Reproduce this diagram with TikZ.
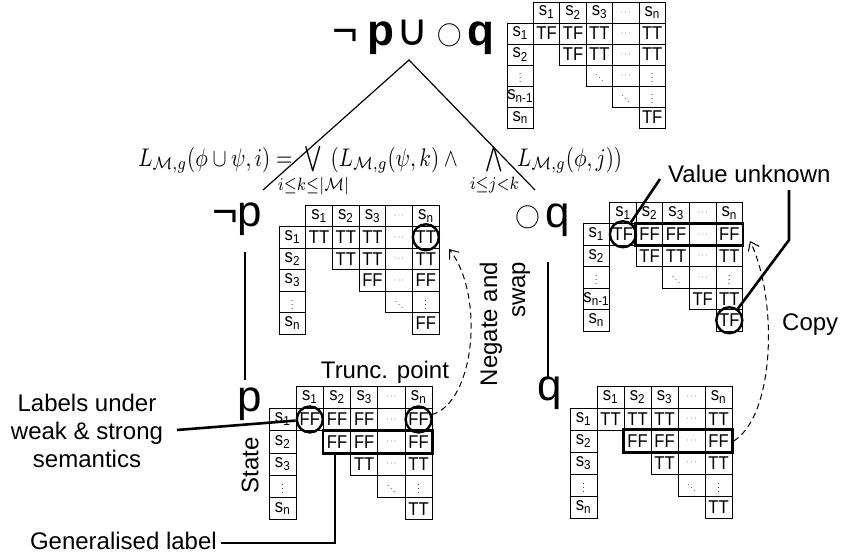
\documentclass[tikz,border=0pt]{standalone}
\usepackage{fontspec}
\setmainfont{Liberation Sans}
\newfontfamily\dejavu{DejaVu Sans}
\newfontfamily\cellfont[FakeStretch=0.9]{Liberation Sans}
\usetikzlibrary{arrows.meta,fit}
\newcommand\Sx[1]{s\textsubscript{#1}}
\newcommand\mycd{{\fontsize{8}{8}\selectfont$\cdots$}}
\newcommand\myvd{{\fontsize{9}{9}\selectfont$\vdots$}}
\newcommand\mydd{{\fontsize{8}{8}\selectfont$\ddots$}}
\newcommand\myclap[1]{\makebox[0pt]{$\scriptstyle #1$}}
\newcommand\ring{\raisebox{4pt}{\fontsize{24.88}{26}\selectfont$\bigcirc$}}
\newcommand\tabsetup[5]{\def\tN{#1}\def\tX{#2}\def\tY{#3}\def\tW{#4}\def\tH{#5}}
\newcommand\tc[3]{\node[cellbox, minimum width=\tW*1pt, minimum height=\tH*1pt] (\tN-#1-#2) at ({\tX+(#2+0.5)*\tW},{\tY+(#1+0.5)*\tH}) {#3};}
\newcommand\stdhead{\foreach \ci/\tx in {1/\Sx1,2/\Sx2,3/\Sx3,4/\mycd,5/\Sx n}{\tc{0}{\ci}{\tx}}}
\tikzset{
 cellbox/.style={draw, line width=0.8pt, inner sep=0pt, font=\cellfont\fontsize{18.5}{18.5}\selectfont},
 markcirc/.style={draw, circle, line width=2.4pt, minimum size=26pt, inner sep=0pt},
 thickbox/.style={draw, line width=2.8pt, inner sep=0pt},
 annot/.style={line width=2.6pt},
 treeline/.style={line width=1.2pt},
 dasharrow/.style={line width=1pt, dash pattern=on 6pt off 4pt, -{Straight Barb[length=8pt,width=12pt]}},
 note/.style={font=\fontsize{24}{28}\selectfont, inner sep=0pt},
 big/.style={font=\fontsize{44}{44}\selectfont, inner sep=0pt},
}
\begin{document}
\begin{tikzpicture}[x=1pt,y=-1pt]
\fill[white] (0,0) rectangle (843,557);
\useasboundingbox (0,0) rectangle (843,557);

% ---------- top table
\tabsetup{T}{507}{2}{26.4}{21}
\stdhead
\foreach \ri/\ci/\tx in {1/0/\Sx1,2/0/\Sx2,3/0/\myvd,4/0/\Sx{n-1},5/0/\Sx n,
 1/1/TF,1/2/TF,1/3/TT,1/4/\mycd,1/5/TT,
 2/2/TF,2/3/TT,2/4/\mycd,2/5/TT,
 3/3/\mydd,3/4/\mycd,3/5/\myvd,
 4/4/\mydd,4/5/\myvd,
 5/5/TF}{\tc{\ri}{\ci}{\tx}}

% ---------- not p table
\tabsetup{NP}{279}{205}{26.7}{21.5}
\stdhead
\foreach \ri/\ci/\tx in {1/0/\Sx1,2/0/\Sx2,3/0/\Sx3,4/0/\myvd,5/0/\Sx n,
 1/1/TT,1/2/TT,1/3/TT,1/4/\mycd,1/5/TT,
 2/2/TT,2/3/TT,2/4/\mycd,2/5/TT,
 3/3/FF,3/4/\mycd,3/5/FF,
 4/4/\mydd,4/5/\myvd,
 5/5/FF}{\tc{\ri}{\ci}{\tx}}

% ---------- next q table
\tabsetup{OQ}{583}{202}{26.6}{21.5}
\stdhead
\foreach \ri/\ci/\tx in {1/0/\Sx1,2/0/\Sx2,3/0/\myvd,4/0/\Sx{n-1},5/0/\Sx n,
 1/1/TF,1/2/FF,1/3/FF,1/4/\mycd,1/5/FF,
 2/2/TF,2/3/TT,2/4/\mycd,2/5/TT,
 3/3/\mydd,3/4/\mycd,3/5/\myvd,
 4/4/TF,4/5/TT,
 5/5/TF}{\tc{\ri}{\ci}{\tx}}

% ---------- p table
\tabsetup{P}{269}{386}{27.2}{22.3}
\stdhead
\foreach \ri/\ci/\tx in {1/0/\Sx1,2/0/\Sx2,3/0/\Sx3,4/0/\myvd,5/0/\Sx n,
 1/1/FF,1/2/FF,1/3/FF,1/4/\mycd,1/5/FF,
 2/2/FF,2/3/FF,2/4/\mycd,2/5/FF,
 3/3/TT,3/4/\mycd,3/5/TT,
 4/4/\mydd,4/5/\myvd,
 5/5/TT}{\tc{\ri}{\ci}{\tx}}

% ---------- q table
\tabsetup{Q}{570}{386}{27}{22}
\stdhead
\foreach \ri/\ci/\tx in {1/0/\Sx1,2/0/\Sx2,3/0/\Sx3,4/0/\myvd,5/0/\Sx n,
 1/1/TT,1/2/TT,1/3/TT,1/4/\mycd,1/5/TT,
 2/2/FF,2/3/FF,2/4/\mycd,2/5/FF,
 3/3/TT,3/4/\mycd,3/5/TT,
 4/4/\mydd,4/5/\myvd,
 5/5/TT}{\tc{\ri}{\ci}{\tx}}

% ---------- marks
\node[markcirc] (cNP15) at (NP-1-5) {};
\node[markcirc] (cOQ11) at (OQ-1-1) {};
\node[markcirc] (cOQ55) at (OQ-5-5) {};
\node[markcirc] (cP11) at (P-1-1) {};
\node[markcirc] (cP15) at (P-1-5) {};
\node[thickbox, fit=(OQ-1-2)(OQ-1-5)] (bxOQ) {};
\node[thickbox, fit=(P-2-2)(P-2-5)] (bxP) {};
\node[thickbox, fit=(Q-2-2)(Q-2-5)] (bxQ) {};

% ---------- formula labels
\node[anchor=base west, inner sep=0pt] (toplbl) at (332,45) {\fontsize{44}{44}\selectfont ¬\kern10pt\textbf{p}\kern2pt{\dejavu\fontsize{44}{44}\selectfont ∪}\kern8pt\ring\kern6pt\textbf{q}};
\node[big, anchor=base west] (nplbl) at (212,226) {¬p};
\node[big, anchor=base west] (oqlbl) at (515,227) {\ring\kern5pt q};
\node[big, anchor=base west] (plbl) at (237,411) {p};
\node[big, anchor=base west] (qlbl) at (537,400) {q};

\node[anchor=base west, inner sep=0pt, xscale=2.1, yscale=2.55] (formula) at (138,166)
 {$L_{\mathcal{M},g}(\phi\cup\psi,i)=\hspace{3pt}\bigvee\limits_{\myclap{i\le k\le|\mathcal{M}|}}\hspace{4pt}(L_{\mathcal{M},g}(\psi,k)\wedge\hspace{11pt}\bigwedge\limits_{\myclap{i\le j<k}}\hspace{5pt}L_{\mathcal{M},g}(\phi,j))$};

% ---------- tree lines
\coordinate (apex) at (409,60);
\coordinate (lend) at (263,190);
\coordinate (rend) at (535,190);
\draw[treeline] (lend) -- (apex) -- (rend);
\coordinate (lv1) at (245,252);
\coordinate (lv2) at (245,380);
\coordinate (rv1) at (548,262);
\coordinate (rv2) at (548,378);
\draw[treeline] (lv1) -- (lv2);
\draw[treeline] (rv1) -- (rv2);

% ---------- annotations
\node[note, anchor=base west] (vu) at (668,182) {Value unknown};
\coordinate (vustart) at (660,179);
\draw[annot] (vustart) -- (cOQ11);
\node[note, anchor=base west] (copy) at (782,330) {Copy};
\coordinate (cpstart) at (789,190);
\coordinate (cpbend) at (789,240);
\draw[annot] (cpstart) -- (cpbend) -- (cOQ55);

\node[note, anchor=base] (trunc) at (385,378) {Trunc. point};
\node[note, align=center] (lbl) at (87,431) {Labels under\\weak \& strong\\semantics};
\coordinate (lbstart) at (177,430);
\draw[annot] (lbstart) -- (cP11);
\node[note, rotate=90] (state) at (250,465) {State};
\node[note, anchor=base east] (gl) at (217,549) {Generalised label};
\coordinate (glstart) at (221,543);
\coordinate (glup) at (335,452.9);
\draw[annot] (glstart) -| (glup);

\node[note, align=right, rotate=90] (neg) at (505,324) {Negate and\\swap};

\coordinate (npTip) at (449,249);
\draw[dasharrow] (cP15.20) .. controls (475,402) and (485,295) .. (npTip);
\coordinate (oqTip) at (750,241);
\draw[dasharrow] (bxQ.east) .. controls (775,415) and (778,300) .. (oqTip);
\end{tikzpicture}
\end{document}
